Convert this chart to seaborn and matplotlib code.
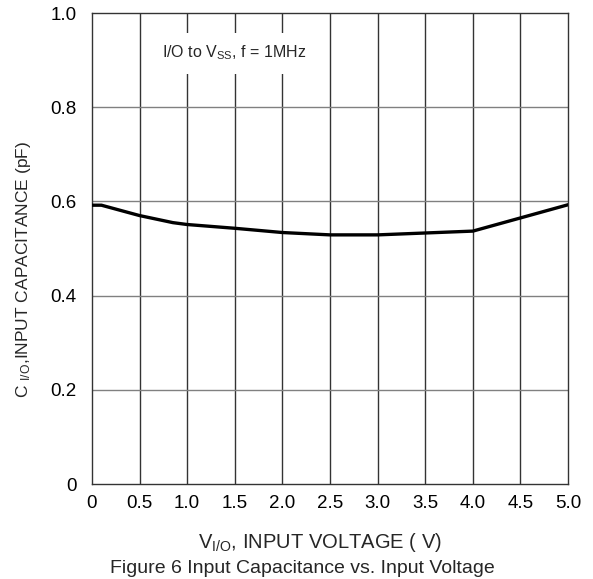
import numpy as np
import pandas as pd
import matplotlib.pyplot as plt
import seaborn as sns

# values
voltage = [0.0, 0.1, 0.5, 0.85, 1.0, 1.5, 2.0, 2.5, 3.0, 3.5, 4.0, 4.5, 5.0]
capacitance = [0.592, 0.592, 0.570, 0.555, 0.551, 0.543, 0.534, 0.529, 0.529, 0.533, 0.537, 0.565, 0.593]

x_ticks = [0, 0.5, 1.0, 1.5, 2.0, 2.5, 3.0, 3.5, 4.0, 4.5, 5.0]
x_labels = ["0", "0.5", "1.0", "1.5", "2.0", "2.5", "3.0", "3.5", "4.0", "4.5", "5.0"]
y_ticks = [0, 0.2, 0.4, 0.6, 0.8, 1.0]
y_labels = ["0", "0.2", "0.4", "0.6", "0.8", "1.0"]

sns.set_style("white")
plt.rcParams['font.family'] = ['Liberation Sans', 'DejaVu Sans']
plt.rcParams['mathtext.fontset'] = 'custom'
plt.rcParams['mathtext.rm'] = 'Liberation Sans'
plt.rcParams['mathtext.it'] = 'Liberation Sans'

df = pd.DataFrame({"V": voltage, "C": capacitance})

fig = plt.figure(figsize=(5.93, 5.79), dpi=100)
ax = fig.add_axes([0.155, 0.164, 0.803, 0.8135])

# grid
for v in x_ticks[1:-1]:
    ax.axvline(v, color="#333333", lw=1.0, zorder=1)
for c in y_ticks[1:-1]:
    ax.axhline(c, color="#808080", lw=1.0, zorder=1)

sns.lineplot(data=df, x="V", y="C", color="black", lw=2.4, ax=ax, zorder=3)

ax.set_xlim(0, 5)
ax.set_ylim(0, 1)
ax.set_xticks(x_ticks, x_labels)
ax.set_yticks(y_ticks, y_labels)
ax.tick_params(length=0, labelsize=13.5, colors="black")
ax.tick_params(axis="x", pad=8)
ax.tick_params(axis="y", pad=11)
for s in ax.spines.values():
    s.set_color("#333333")
    s.set_linewidth(1.0)

ax.set_xlabel("")
ax.set_ylabel("")

ax.text(1.49, 0.915, "I/O to V$_{SS}$, f = 1MHz", ha="center", va="center",
        fontsize=11.5, zorder=4,
        bbox=dict(facecolor="white", edgecolor="none", pad=8))

fig.text(0.54, 0.0535, "V$_{I/O}$, INPUT VOLTAGE ( V)", ha="center", va="baseline",
         fontsize=14.5)
fig.text(0.51, 0.01, "Figure 6 Input Capacitance vs. Input Voltage", ha="center", va="baseline",
         fontsize=14)
fig.text(0.04, 0.535, "C $_{I/O}$,INPUT CAPACITANCE (pF)", rotation=90,
         ha="center", va="center", fontsize=12.5)

fig.savefig("out.png", dpi=100)
